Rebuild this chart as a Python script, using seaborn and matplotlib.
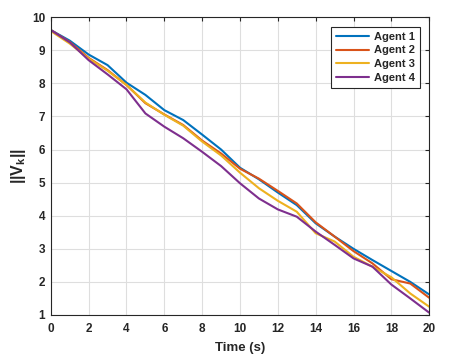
import numpy as np
import pandas as pd
import matplotlib
matplotlib.use("Agg")
import matplotlib.pyplot as plt
import seaborn as sns

time = [0, 1, 2, 3, 4, 5, 6, 7, 8, 9, 10, 11, 12, 13, 14, 15, 16, 17, 18, 19, 20]
agent1 = [9.61, 9.29, 8.87, 8.55, 8.02, 7.65, 7.19, 6.89, 6.45, 6.00, 5.45, 5.10, 4.70, 4.32, 3.77, 3.37, 3.00, 2.66, 2.33, 2.00, 1.62]
agent2 = [9.61, 9.25, 8.77, 8.40, 7.95, 7.40, 7.06, 6.74, 6.27, 5.88, 5.42, 5.12, 4.75, 4.37, 3.80, 3.37, 2.93, 2.56, 2.08, 1.95, 1.52]
agent3 = [9.58, 9.20, 8.75, 8.38, 7.95, 7.42, 7.05, 6.72, 6.24, 5.82, 5.30, 4.83, 4.45, 4.12, 3.47, 3.22, 2.76, 2.46, 2.14, 1.65, 1.25]
agent4 = [9.61, 9.24, 8.70, 8.27, 7.82, 7.09, 6.69, 6.34, 5.93, 5.50, 4.98, 4.52, 4.19, 3.97, 3.52, 3.12, 2.71, 2.46, 1.92, 1.50, 1.07]
labels = ["Agent 1", "Agent 2", "Agent 3", "Agent 4"]
colors = ["#0072BD", "#D95319", "#EDB120", "#7E2F8E"]

frames = []
for lab, vals in zip(labels, [agent1, agent2, agent3, agent4]):
    frames.append(pd.DataFrame({"t": time, "v": vals, "agent": lab}))
df = pd.concat(frames, ignore_index=True)

sns.set_style("white")
plt.rcParams["font.family"] = ["Liberation Sans", "DejaVu Sans"]
plt.rcParams["font.weight"] = "bold"
plt.rcParams["mathtext.fontset"] = "custom"
plt.rcParams["mathtext.rm"] = "Liberation Sans:bold"
plt.rcParams["mathtext.it"] = "Liberation Sans:bold"
plt.rcParams["mathtext.bf"] = "Liberation Sans:bold"

fig = plt.figure(figsize=(4.62, 3.55), dpi=100)
ax = fig.add_axes([0.110, 0.1127, 0.819, 0.839])

sns.lineplot(data=df, x="t", y="v", hue="agent", palette=colors, linewidth=1.5, ax=ax)

ax.set_xlim(0, 20)
ax.set_ylim(1, 10)
ax.set_xticks(range(0, 21, 2))
ax.set_yticks(range(1, 11))
ax.grid(True, color="#dedede", linewidth=0.8)
ax.set_axisbelow(True)
for s in ax.spines.values():
    s.set_color("#262626")
    s.set_linewidth(0.8)
ax.tick_params(direction="in", length=3, width=0.8, top=True, right=True,
               labelsize=8.5, colors="#262626")
ax.tick_params(axis="x", pad=6)
ax.tick_params(axis="y", pad=4)
for lbl in ax.get_xticklabels() + ax.get_yticklabels():
    lbl.set_fontweight("bold")
ax.set_xlabel("Time (s)", fontsize=9.5, fontweight="bold", labelpad=4.5)
ax.set_ylabel(r"$||V_k||$", fontsize=11.5, fontweight="bold", labelpad=3)

leg = ax.legend(loc="upper right", fontsize=8, frameon=True, fancybox=False,
                edgecolor="#262626", framealpha=1, borderpad=0.45,
                handlelength=3.0, handletextpad=0.4, labelspacing=0.35,
                borderaxespad=0.85)
leg.get_frame().set_linewidth(0.8)
for txt in leg.get_texts():
    txt.set_fontweight("bold")

fig.savefig("out.png", dpi=100)
